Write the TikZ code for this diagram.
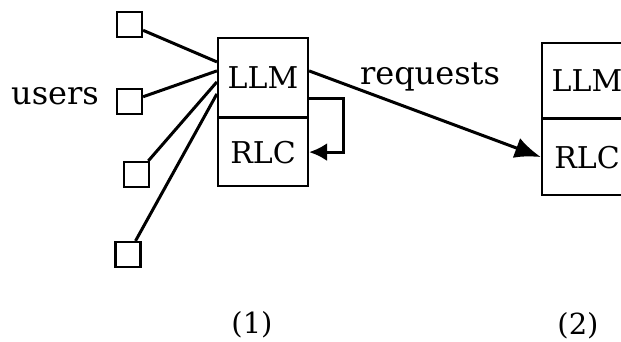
\documentclass[tikz,border=0pt]{standalone}
\usepackage{fontspec}
\setmainfont{DejaVu Serif}
\usetikzlibrary{calc,arrows.meta}

\tikzset{
  user/.style={draw, line width=2.2pt, minimum size=25pt, inner sep=0pt},
  layer/.style={draw, line width=2.2pt, minimum width=90pt, inner sep=0pt,
    font=\fontsize{30}{34}\selectfont},
  link/.style={line width=3pt},
  lbl/.style={font=\fontsize{32}{36}\selectfont, inner sep=0pt}
}

\begin{document}
\begin{tikzpicture}[x=1pt, y=-1pt]
\useasboundingbox (0,0) rectangle (621,342);
% users
\node [user] (u1) at (129.5,24.5) {};
\node [user] (u2) at (129.5,101.5) {};
\node [user] (u3) at (136.5,174.5) {};
\node [user] (u4) at (128,254.5) {};
\node [lbl] (users) at (55,96) {users};
% station (1)
\node [layer, minimum height=79pt] (llmA) at (263,77.5) {LLM};
\node [layer, minimum height=68pt, anchor=north] (rlcA) at ([yshift=1.1pt]llmA.south) {RLC};
% station (2), cut off at the right
\begin{scope}
\clip (0,0) rectangle (621,342);
\node [layer, minimum height=75pt] (llmB) at (587,80.5) {LLM};
\node [layer, minimum height=76pt, anchor=north] (rlcB) at ([yshift=1.1pt]llmB.south) {RLC};
\end{scope}
% users to LLM
\coordinate (p1) at ($(llmA.north west)+(0,25)$);
\coordinate (p2) at ($(llmA.north west)+(0,34)$);
\coordinate (p3) at ($(llmA.north west)+(0,45)$);
\coordinate (p4) at ($(llmA.north west)+(0,57)$);
\draw [link] (u1) -- (p1);
\draw [link] (u2) -- (p2);
\draw [link] (u3) -- (p3);
\draw [link] (u4) -- (p4);
% LLM back down to RLC
\coordinate (fb) at ($(llmA.south east)+(0,-20)$);
\draw [link] (fb) -- ++(34,0) -- ++(0,56);
\draw [link, -{Latex[length=18pt, width=18pt]}] ($(rlcA.east)+(34,0)$) -- (rlcA.east);
% requests to the next station
\coordinate (rq) at ($(llmA.north east)+(0,34)$);
\draw [link, -{Latex[length=26pt, width=21pt]}] (rq) -- (rlcB.west);
\node [lbl] (req) at (430,77) {requests};
% station numbers
\node [lbl, font=\fontsize{29}{33}\selectfont] (n1) at (252,325) {(1)};
\node [lbl, font=\fontsize{29}{33}\selectfont] (n2) at (578,326) {(2)};
\end{tikzpicture}
\end{document}
